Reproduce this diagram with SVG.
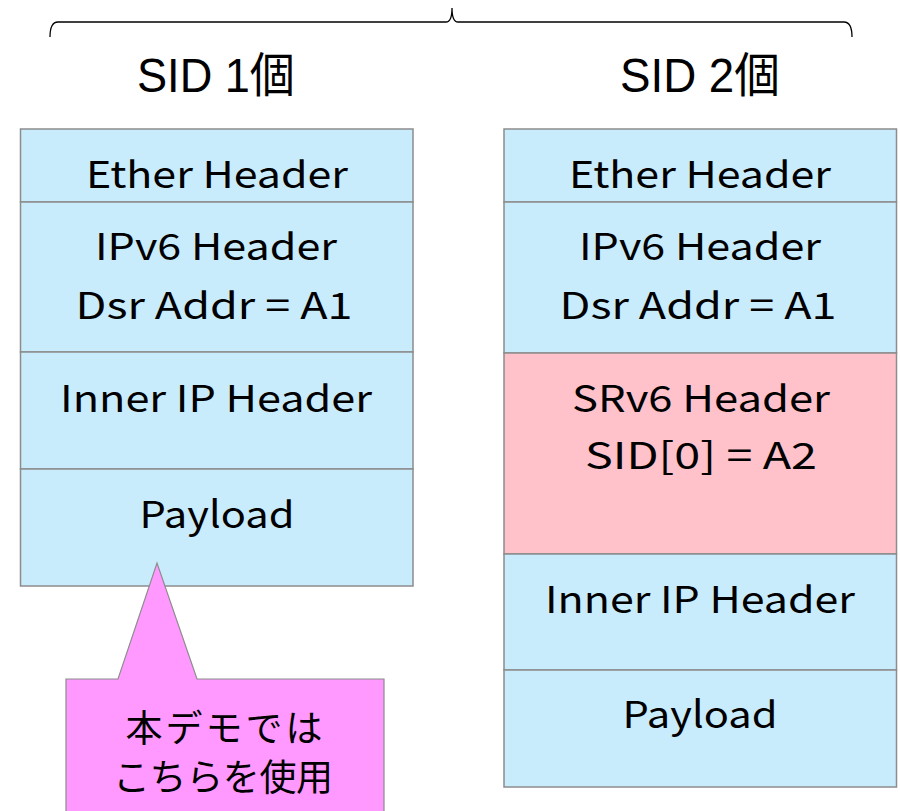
<svg xmlns="http://www.w3.org/2000/svg" width="900" height="811" viewBox="0 0 900 811">
<style>
.b{fill:#c9ecfd;stroke:#8c8c8c;stroke-width:1.5}
.p{fill:#ffc2cb;stroke:#8c8c8c;stroke-width:1.5}
.t{font-family:"Noto Sans CJK JP","Liberation Sans",sans-serif;font-size:37px;fill:#000;text-anchor:middle}
.h{font-family:"Liberation Sans","Noto Sans CJK JP",sans-serif;font-size:48px;fill:#000;text-anchor:middle}
</style>
<rect width="900" height="811" fill="#fff"/>
<g id="brace"><path d="M50 37 Q50 22 58 22 L446 22 Q452 22 452 8 Q452 22 458 22 L844 22 Q852 22 852 37" fill="none" stroke="#000" stroke-width="1.3"/></g>
<g id="title1"><text class="h" x="216" y="92" textLength="158" lengthAdjust="spacingAndGlyphs">SID 1個</text></g>
<g id="title2"><text class="h" x="700" y="92" textLength="160" lengthAdjust="spacingAndGlyphs">SID 2個</text></g>
<g id="l-ether"><rect class="b" x="20.5" y="129" width="392.5" height="73"/><text class="t" x="217" y="188" textLength="262" lengthAdjust="spacingAndGlyphs">Ether Header</text></g>
<g id="l-ipv6"><rect class="b" x="20.5" y="202" width="392.5" height="150"/><text class="t" x="216" y="260" textLength="242" lengthAdjust="spacingAndGlyphs">IPv6 Header</text><text class="t" x="214" y="319" textLength="277" lengthAdjust="spacingAndGlyphs">Dsr Addr = A1</text></g>
<g id="l-inner"><rect class="b" x="20.5" y="352" width="392.5" height="117"/><text class="t" x="216" y="412" textLength="312" lengthAdjust="spacingAndGlyphs">Inner IP Header</text></g>
<g id="l-payload"><rect class="b" x="20.5" y="469" width="392.5" height="117"/><text class="t" x="217" y="528" textLength="155" lengthAdjust="spacingAndGlyphs">Payload</text></g>
<g id="r-ether"><rect class="b" x="504" y="129" width="392.5" height="73"/><text class="t" x="700" y="188" textLength="262" lengthAdjust="spacingAndGlyphs">Ether Header</text></g>
<g id="r-ipv6"><rect class="b" x="504" y="202" width="392.5" height="151"/><text class="t" x="700" y="260" textLength="242" lengthAdjust="spacingAndGlyphs">IPv6 Header</text><text class="t" x="698" y="319" textLength="277" lengthAdjust="spacingAndGlyphs">Dsr Addr = A1</text></g>
<g id="r-srv6"><rect class="p" x="504" y="353" width="392.5" height="201"/><text class="t" x="701" y="412" textLength="258" lengthAdjust="spacingAndGlyphs">SRv6 Header</text><text class="t" x="701" y="469" textLength="232" lengthAdjust="spacingAndGlyphs">SID[0] = A2</text></g>
<g id="r-inner"><rect class="b" x="504" y="554" width="392.5" height="116"/><text class="t" x="700" y="613" textLength="310" lengthAdjust="spacingAndGlyphs">Inner IP Header</text></g>
<g id="r-payload"><rect class="b" x="504" y="670" width="392.5" height="117"/><text class="t" x="700" y="728" textLength="155" lengthAdjust="spacingAndGlyphs">Payload</text></g>
<g id="callout"><path d="M66 679 L118 679 L157 563 L197 679 L384 679 L384 815 L66 815 Z" fill="#ff99ff" stroke="#8c8c8c" stroke-width="1.2"/><text class="t" x="224" y="742" textLength="197">本デモでは</text><text class="t" x="223" y="791" textLength="220">こちらを使用</text></g>
<g id="connectors"></g>
</svg>
